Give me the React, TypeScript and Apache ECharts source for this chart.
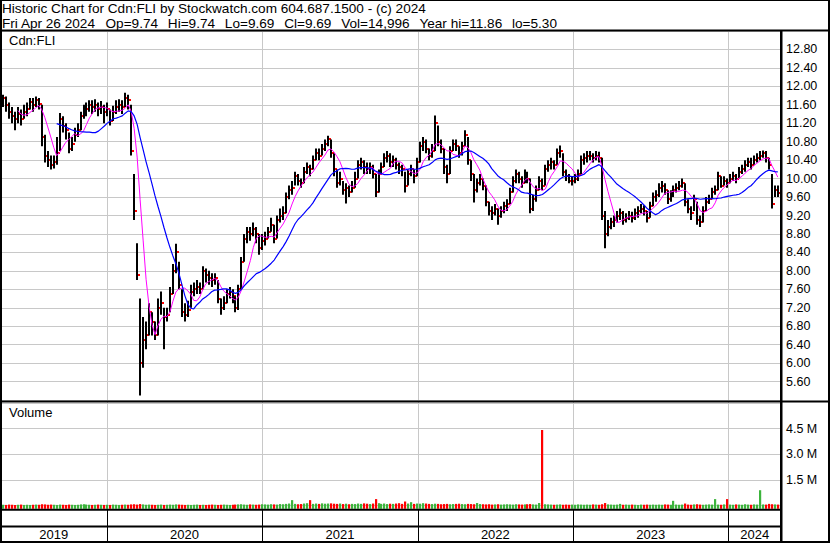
import React, { useEffect, useRef } from "react";
import * as echarts from "echarts";

const DAY = 86400000;
const FONT = '"Liberation Sans", Arial, sans-serif';

// weekly bars, first week ending Fri 2019-05-03, last Fri 2024-04-26
const firstWeek = Date.UTC(2019, 4, 3);

const close = [
  11.75, 11.6, 11.45, 11.35, 11.3, 11.4, 11.3, 11.45, 11.5, 11.65,
  11.6, 11.7, 11.62, 10.9, 10.5, 10.4, 10.3, 10.35, 10.55, 11.3,
  11.15, 11.05, 10.65, 10.75, 10.95, 11.05, 11.35, 11.45, 11.5, 11.6,
  11.55, 11.6, 11.5, 11.55, 11.45, 11.5, 11.25, 11.45, 11.55, 11.6,
  11.55, 11.75, 11.7, 10.6, 9.3, 7.9, 6.0, 6.5, 6.6, 7.1,
  6.9, 6.6, 7.2, 7.3, 7.0, 7.05, 7.5, 8.0, 8.4, 7.7,
  7.1, 7.05, 7.15, 7.55, 7.6, 7.65, 7.6, 8.0, 7.9, 7.85,
  7.8, 7.85, 7.4, 7.2, 7.3, 7.5, 7.55, 7.45, 7.2, 7.6,
  8.2, 8.7, 8.85, 8.8, 8.9, 8.8, 8.5, 8.65, 8.7, 8.85,
  9.0, 8.7, 9.1, 9.2, 9.25, 9.6, 9.75, 9.8, 10.05, 9.95,
  9.9, 10.15, 10.25, 10.2, 10.4, 10.55, 10.5, 10.65, 10.75, 10.85,
  10.55, 10.2, 9.9, 10.0, 9.75, 9.8, 9.7, 9.8, 10.0, 10.3,
  10.35, 10.25, 10.2, 10.25, 10.1, 9.7, 10.1, 10.25, 10.45, 10.5,
  10.35, 10.4, 10.3, 10.25, 10.2, 9.85, 10.1, 10.2, 10.05, 10.35,
  10.7, 10.8, 10.65, 10.5, 10.6, 11.2, 10.8, 10.65, 10.25, 10.1,
  10.6, 10.75, 10.7, 10.55, 10.7, 10.95, 10.4, 10.1, 9.75, 9.9,
  10.0, 9.85, 9.5, 9.3, 9.25, 9.35, 9.2, 9.3, 9.4, 9.45,
  9.7, 9.95, 10.1, 10.0, 9.9, 10.1, 10.0, 9.35, 9.55, 9.75,
  9.95, 9.85, 10.2, 10.3, 10.35, 10.3, 10.55, 10.6, 10.15, 10.05,
  9.95, 9.95, 10.0, 10.1, 10.4, 10.45, 10.5, 10.5, 10.45, 10.5,
  10.45, 9.2, 8.8, 8.95, 9.05, 9.1, 9.2, 9.25, 9.1, 9.15,
  9.2, 9.15, 9.25, 9.3, 9.35, 9.3, 9.15, 9.4, 9.6, 9.65,
  9.8, 9.85, 9.75, 9.55, 9.65, 9.75, 9.8, 9.85, 9.9, 9.5,
  9.35, 9.25, 9.55, 9.1, 9.05, 9.3, 9.5, 9.55, 9.7, 9.75,
  10.05, 9.85, 9.95, 9.9, 10.0, 10.05, 10.0, 10.15, 10.2, 10.3,
  10.35, 10.3, 10.4, 10.45, 10.5, 10.55, 10.45, 10.3, 9.45, 9.75,
  9.69,
];

const high = [
  11.82, 11.78, 11.65, 11.55, 11.45, 11.55, 11.5, 11.6, 11.65, 11.75,
  11.75, 11.78, 11.75, 11.6, 10.95, 10.6, 10.5, 10.5, 10.9, 11.42,
  11.35, 11.2, 11.0, 10.9, 11.1, 11.2, 11.45, 11.6, 11.65, 11.7,
  11.7, 11.72, 11.65, 11.68, 11.6, 11.65, 11.5, 11.58, 11.7, 11.72,
  11.7, 11.86, 11.82, 11.6, 10.1, 8.6, 7.4, 7.0, 6.9, 7.3,
  7.1, 6.9, 7.4, 7.55, 7.2, 7.2, 7.65, 8.15, 8.59, 8.2,
  7.6, 7.3, 7.35, 7.7, 7.75, 7.8, 7.75, 8.1, 8.05, 8.0,
  7.95, 7.95, 7.8, 7.4, 7.45, 7.6, 7.65, 7.6, 7.45, 7.7,
  8.3, 8.8, 8.95, 8.95, 9.05, 8.95, 8.8, 8.8, 8.85, 8.95,
  9.15, 9.0, 9.2, 9.35, 9.4, 9.7, 9.85, 9.95, 10.15, 10.1,
  10.0, 10.25, 10.35, 10.3, 10.5, 10.65, 10.65, 10.75, 10.85, 10.93,
  10.85, 10.55, 10.2, 10.15, 9.95, 9.9, 9.85, 9.95, 10.15, 10.4,
  10.45, 10.4, 10.35, 10.35, 10.3, 10.1, 10.2, 10.35, 10.55, 10.6,
  10.55, 10.5, 10.45, 10.35, 10.3, 10.15, 10.2, 10.3, 10.2, 10.45,
  10.8, 10.9, 10.85, 10.65, 10.75, 11.37, 11.15, 10.85, 10.65, 10.3,
  10.7, 10.85, 10.85, 10.7, 10.8, 11.05, 10.9, 10.4, 10.1, 10.0,
  10.1, 10.0, 9.85, 9.5, 9.4, 9.45, 9.35, 9.4, 9.5, 9.55,
  9.8, 10.05, 10.2, 10.15, 10.05, 10.2, 10.15, 10.0, 9.65, 9.85,
  10.05, 10.0, 10.3, 10.4, 10.45, 10.4, 10.65, 10.72, 10.55, 10.2,
  10.1, 10.05, 10.1, 10.2, 10.5, 10.55, 10.6, 10.6, 10.55, 10.6,
  10.58, 10.45, 9.3, 9.1, 9.15, 9.2, 9.3, 9.35, 9.3, 9.25,
  9.3, 9.28, 9.35, 9.4, 9.45, 9.42, 9.3, 9.5, 9.7, 9.75,
  9.9, 9.95, 9.9, 9.75, 9.75, 9.85, 9.9, 9.95, 10.0, 9.9,
  9.55, 9.4, 9.65, 9.5, 9.2, 9.4, 9.6, 9.65, 9.8, 9.85,
  10.15, 10.05, 10.05, 10.0, 10.1, 10.15, 10.1, 10.25, 10.3, 10.4,
  10.45, 10.45, 10.5, 10.55, 10.6, 10.61, 10.6, 10.45, 10.1, 9.85,
  9.85,
];

const low = [
  11.55, 11.45, 11.3, 11.2, 11.05, 11.2, 11.15, 11.3, 11.35, 11.5,
  11.45, 11.55, 11.5, 10.7, 10.35, 10.25, 10.2, 10.22, 10.3, 10.6,
  11.0, 10.85, 10.55, 10.6, 10.8, 10.9, 11.05, 11.3, 11.35, 11.45,
  11.4, 11.45, 11.35, 11.4, 11.2, 11.35, 11.15, 11.25, 11.4, 11.45,
  11.4, 11.55, 11.5, 10.5, 9.1, 7.8, 5.3, 5.9, 6.3, 6.6,
  6.6, 6.5, 6.6, 7.05, 6.3, 6.9, 7.1, 7.5, 7.95, 7.6,
  7.0, 6.9, 7.0, 7.2, 7.45, 7.5, 7.5, 7.6, 7.75, 7.7,
  7.65, 7.7, 7.3, 7.05, 7.15, 7.3, 7.4, 7.3, 7.1, 7.15,
  7.6, 8.2, 8.6, 8.65, 8.75, 8.6, 8.35, 8.45, 8.55, 8.7,
  8.85, 8.6, 8.7, 9.05, 9.1, 9.25, 9.55, 9.65, 9.85, 9.85,
  9.8, 9.9, 10.1, 10.05, 10.2, 10.4, 10.4, 10.5, 10.6, 10.7,
  10.45, 10.05, 9.8, 9.85, 9.65, 9.46, 9.6, 9.7, 9.8, 10.0,
  10.2, 10.1, 10.1, 10.1, 10.0, 9.6, 9.7, 10.1, 10.25, 10.35,
  10.25, 10.25, 10.2, 10.1, 10.05, 9.7, 9.85, 10.05, 9.9, 10.05,
  10.35, 10.6, 10.55, 10.4, 10.45, 10.6, 10.7, 10.55, 10.1, 9.9,
  10.1, 10.6, 10.6, 10.45, 10.5, 10.7, 10.3, 9.95, 9.48, 9.7,
  9.85, 9.75, 9.4, 9.2, 9.1, 9.2, 9.0, 9.15, 9.25, 9.3,
  9.45, 9.7, 9.9, 9.9, 9.8, 9.9, 9.9, 9.25, 9.3, 9.5,
  9.75, 9.75, 9.85, 10.15, 10.2, 10.2, 10.3, 10.45, 10.05, 9.95,
  9.9, 9.85, 9.9, 9.95, 10.1, 10.3, 10.35, 10.4, 10.35, 10.4,
  10.35, 9.1, 8.49, 8.75, 8.9, 8.95, 9.05, 9.1, 9.0, 9.05,
  9.1, 9.05, 9.1, 9.15, 9.25, 9.2, 9.05, 9.15, 9.4, 9.5,
  9.6, 9.7, 9.65, 9.45, 9.5, 9.6, 9.7, 9.75, 9.8, 9.4,
  9.25, 9.1, 9.3, 9.0, 8.95, 9.05, 9.3, 9.45, 9.55, 9.65,
  9.75, 9.8, 9.85, 9.8, 9.9, 9.95, 9.9, 10.0, 10.1, 10.15,
  10.25, 10.2, 10.3, 10.35, 10.4, 10.45, 10.35, 10.2, 9.35, 9.6,
  9.6,
];

// weekly volume, millions of shares
const volume = [
  0.05, 0.04, 0.06, 0.05, 0.04, 0.05, 0.06, 0.04, 0.05, 0.04,
  0.05, 0.06, 0.05, 0.08, 0.07, 0.05, 0.06, 0.05, 0.04, 0.06,
  0.05, 0.04, 0.06, 0.05, 0.04, 0.05, 0.07, 0.08, 0.06, 0.05,
  0.04, 0.05, 0.06, 0.05, 0.04, 0.05, 0.04, 0.06, 0.05, 0.04,
  0.05, 0.06, 0.05, 0.07, 0.08, 0.06, 0.09, 0.07, 0.05, 0.06,
  0.05, 0.04, 0.05, 0.06, 0.04, 0.05, 0.06, 0.05, 0.07, 0.06,
  0.05, 0.04, 0.05, 0.04, 0.05, 0.06, 0.04, 0.05, 0.04, 0.05,
  0.06, 0.05, 0.04, 0.05, 0.06, 0.05, 0.04, 0.05, 0.06, 0.07,
  0.08, 0.06, 0.05, 0.07, 0.06, 0.05, 0.06, 0.08, 0.07, 0.06,
  0.08, 0.07, 0.06, 0.09, 0.08, 0.1, 0.12, 0.32, 0.1, 0.08,
  0.09, 0.12, 0.14, 0.32, 0.1, 0.12, 0.1, 0.13, 0.11, 0.12,
  0.13, 0.11, 0.1, 0.12, 0.09, 0.11, 0.08, 0.1, 0.09, 0.12,
  0.1, 0.13, 0.11, 0.09, 0.12, 0.38, 0.14, 0.1, 0.12, 0.09,
  0.11, 0.1, 0.12, 0.14, 0.1, 0.24, 0.12, 0.2, 0.1, 0.12,
  0.11, 0.14, 0.12, 0.1, 0.09, 0.11, 0.1, 0.08, 0.09, 0.1,
  0.08, 0.09, 0.1, 0.11, 0.09, 0.08, 0.1, 0.09, 0.08, 0.15,
  0.09, 0.08, 0.07, 0.08, 0.06, 0.07, 0.08, 0.06, 0.07, 0.08,
  0.07, 0.06, 0.08, 0.07, 0.06, 0.07, 0.08, 0.09, 0.07, 0.06,
  0.15, 4.42, 0.08, 0.07, 0.06, 0.05, 0.06, 0.07, 0.05, 0.06,
  0.05, 0.06, 0.05, 0.07, 0.06, 0.05, 0.06, 0.05, 0.07, 0.06,
  0.05, 0.08, 0.15, 0.07, 0.06, 0.05, 0.06, 0.1, 0.05, 0.06,
  0.05, 0.06, 0.05, 0.04, 0.06, 0.05, 0.06, 0.05, 0.06, 0.05,
  0.06, 0.05, 0.07, 0.06, 0.05, 0.28, 0.06, 0.05, 0.06, 0.12,
  0.06, 0.05, 0.07, 0.08, 0.06, 0.05, 0.06, 0.07, 0.06, 0.38,
  0.06, 0.05, 0.07, 0.38, 0.06, 0.05, 0.07, 0.06, 0.05, 0.08,
  0.06, 0.05, 0.07, 0.06, 0.9, 0.07, 0.06, 0.1, 0.08, 0.07,
  0.06,
];

const yearLabels = ["2019", "2020", "2021", "2022", "2023", "2024"];
const yearStarts = [
  Date.UTC(2020, 0, 1),
  Date.UTC(2021, 0, 1),
  Date.UTC(2022, 0, 1),
  Date.UTC(2023, 0, 1),
  Date.UTC(2024, 0, 1),
];

const maShort = 6; // weeks (magenta)
const maLong = 19; // weeks (blue)

const headerLine1 = "Historic Chart for Cdn:FLI by Stockwatch.com 604.687.1500 - (c) 2024";
const headerLine2Parts = [
  "Fri Apr 26 2024",
  "Op=9.74",
  "Hi=9.74",
  "Lo=9.69",
  "Cl=9.69",
  "Vol=14,996",
  "Year hi=11.86",
  "lo=5.30",
];

// time axis range
const tMin = Date.UTC(2020, 0, 1) - 247.85 * DAY;
const tMax = tMin + 1832.4 * DAY;

const weekDates = close.map((_, i) => firstWeek + i * 7 * DAY);

function sma(values: number[], n: number) {
  const out: number[][] = [];
  let sum = 0;
  for (let i = 0; i < values.length; i++) {
    sum += values[i];
    if (i >= n) sum -= values[i - n];
    if (i >= n - 1) out.push([weekDates[i], +(sum / n).toFixed(4)]);
  }
  return out;
}

const HEADER_FONT = "13.6px " + FONT;
const HEADER_GAP = 9.8;

function headerLine2Graphics(top: number) {
  const ctx = document.createElement("canvas").getContext("2d");
  if (ctx) ctx.font = HEADER_FONT;
  const out: any[] = [];
  let x = 2;
  for (const part of headerLine2Parts) {
    out.push({ type: "text", left: x, top, style: { text: part, font: HEADER_FONT, fill: "#000" }, z: 10 });
    const w = ctx ? ctx.measureText(part).width : part.length * 7;
    x += w + HEADER_GAP;
  }
  return out;
}

export default function App() {
  const ref = useRef<HTMLDivElement>(null);

  useEffect(() => {
    if (!ref.current) return;
    const chart = echarts.init(ref.current, undefined, { renderer: "svg" });

    const ohlc = weekDates.map((t, i) => [t, high[i], low[i], close[i]]);
    const vols = weekDates.map((t, i) => [t, volume[i] * 1e6, i > 0 && close[i] < close[i - 1] ? 0 : 1]);
    const bounds = [tMin, ...yearStarts, tMax];
    const yearSeg = yearLabels.map((_, k) => [bounds[k], bounds[k + 1], k]);
    const gridLines = yearStarts.map((t) => [t, 0]);

    const yearGridRender = (params: any, api: any) => {
      const x = Math.round(api.coord([api.value(0), 0])[0]) + 0.5;
      const cs = params.coordSys;
      return {
        type: "line",
        shape: { x1: x, y1: cs.y, x2: x, y2: cs.y + cs.height + 4 },
        style: { stroke: "#c8c8c8", lineWidth: 1 },
      };
    };

    const hiddenX = (gi: number) => ({
      type: "time",
      gridIndex: gi,
      min: tMin,
      max: tMax,
      show: false,
    });

    chart.setOption({
      animation: false,
      backgroundColor: "#ffffff",
      grid: [
        { left: 1, top: 31, width: 780, height: 369, containLabel: false, outerBoundsMode: "none" },
        { left: 1, top: 403, width: 780, height: 102.6, containLabel: false, outerBoundsMode: "none" },
        { left: 1, top: 510, width: 780, height: 32, containLabel: false, outerBoundsMode: "none" },
      ],
      xAxis: [hiddenX(0), hiddenX(1), hiddenX(2)],
      yAxis: [
        {
          type: "value",
          gridIndex: 0,
          position: "right",
          min: 5.2,
          max: 13.2,
          interval: 0.4,
          axisLine: { show: false },
          axisTick: { show: false },
          splitLine: { show: true, lineStyle: { color: "#c8c8c8", width: 1 } },
          axisLabel: {
            formatter: (v: number) => v.toFixed(2),
            color: "#000",
            fontSize: 12.5,
            fontFamily: FONT,
            margin: 5,
            showMinLabel: false,
            showMaxLabel: false,
          },
        },
        {
          type: "value",
          gridIndex: 1,
          position: "right",
          min: 0,
          max: 6e6,
          interval: 1.5e6,
          axisLine: { show: false },
          axisTick: { show: false },
          splitLine: { show: true, lineStyle: { color: "#c8c8c8", width: 1 } },
          axisLabel: {
            formatter: (v: number) => (v / 1e6).toFixed(1) + " M",
            color: "#000",
            fontSize: 12.5,
            fontFamily: FONT,
            margin: 5,
            showMinLabel: false,
            showMaxLabel: false,
          },
        },
        { type: "value", gridIndex: 2, min: 0, max: 1, show: false },
      ],
      series: [
        {
          type: "custom",
          name: "priceGrid",
          xAxisIndex: 0,
          yAxisIndex: 0,
          z: 1,
          silent: true,
          data: gridLines,
          renderItem: yearGridRender,
        },
        {
          type: "custom",
          name: "volGrid",
          xAxisIndex: 1,
          yAxisIndex: 1,
          z: 1,
          silent: true,
          data: gridLines,
          renderItem: yearGridRender,
        },
        {
          type: "custom",
          name: "Cdn:FLI",
          xAxisIndex: 0,
          yAxisIndex: 0,
          z: 3,
          data: ohlc,
          encode: { x: 0, y: [1, 2, 3] },
          renderItem: (params: any, api: any) => {
            const t = api.value(0);
            const pH = api.coord([t, api.value(1)]);
            const pL = api.coord([t, api.value(2)]);
            const pC = api.coord([t, api.value(3)]);
            const x = Math.round(pH[0]);
            return {
              type: "group",
              children: [
                {
                  type: "rect",
                  shape: { x: x - 1, y: pH[1], width: 2, height: Math.max(1, pL[1] - pH[1]) },
                  style: { fill: "#000000" },
                },
                {
                  type: "rect",
                  shape: { x: x + 1, y: Math.round(pC[1]) - 1, width: 2, height: 2 },
                  style: { fill: "#ff0000" },
                },
              ],
            };
          },
        },
        {
          type: "line",
          name: "MA short",
          xAxisIndex: 0,
          yAxisIndex: 0,
          z: 4,
          data: sma(close, maShort),
          showSymbol: false,
          lineStyle: { color: "#ff00ff", width: 1 },
          itemStyle: { color: "#ff00ff" },
        },
        {
          type: "line",
          name: "MA long",
          xAxisIndex: 0,
          yAxisIndex: 0,
          z: 4,
          data: sma(close, maLong),
          showSymbol: false,
          lineStyle: { color: "#0000ff", width: 1.2 },
          itemStyle: { color: "#0000ff" },
        },
        {
          type: "custom",
          name: "Volume",
          xAxisIndex: 1,
          yAxisIndex: 1,
          z: 3,
          data: vols,
          encode: { x: 0, y: 1 },
          renderItem: (params: any, api: any) => {
            const t = api.value(0);
            const top = api.coord([t, api.value(1)]);
            const cs = params.coordSys;
            const base = cs.y + cs.height + 3.2;
            const x = Math.round(top[0]);
            return {
              type: "rect",
              shape: { x: x - 1, y: top[1], width: 2.2, height: base - top[1] },
              style: { fill: api.value(2) ? "#3cb43c" : "#ff0000" },
            };
          },
        },
        {
          type: "custom",
          name: "years",
          xAxisIndex: 2,
          yAxisIndex: 2,
          z: 3,
          silent: true,
          data: yearSeg,
          renderItem: (params: any, api: any) => {
            const s = api.value(0);
            const e = api.value(1);
            const k = api.value(2);
            const x1 = api.coord([s, 0.5])[0];
            const x2 = api.coord([e, 0.5])[0];
            const cs = params.coordSys;
            const children: any[] = [
              {
                type: "text",
                style: {
                  text: yearLabels[k],
                  x: (x1 + x2) / 2,
                  y: cs.y + 24.5,
                  align: "center",
                  verticalAlign: "middle",
                  font: "13px " + FONT,
                  fill: "#000",
                },
              },
            ];
            if (k > 0) {
              const xx = Math.round(x1) + 0.5;
              children.push({
                type: "line",
                shape: { x1: xx, y1: cs.y, x2: xx, y2: cs.y + cs.height },
                style: { stroke: "#000", lineWidth: 1 },
              });
            }
            return { type: "group", children };
          },
        },
      ],
      graphic: [
        { type: "text", left: 2, top: 1, style: { text: headerLine1, font: HEADER_FONT, fill: "#000" }, z: 10 },
        ...headerLine2Graphics(16),
        { type: "text", left: 9, top: 34, style: { text: "Cdn:FLI", font: "13px " + FONT, fill: "#000" }, z: 10 },
        { type: "text", left: 9, top: 406, style: { text: "Volume", font: "13px " + FONT, fill: "#000" }, z: 10 },
        // frame
        { type: "rect", shape: { x: 0, y: 0, width: 2, height: 543 }, style: { fill: "#000" }, z: 10 },
        { type: "rect", shape: { x: 828, y: 0, width: 2, height: 543 }, style: { fill: "#000" }, z: 10 },
        { type: "rect", shape: { x: 0, y: 0, width: 830, height: 1 }, style: { fill: "#000" }, z: 10 },
        { type: "rect", shape: { x: 0, y: 541, width: 830, height: 2 }, style: { fill: "#000" }, z: 10 },
        { type: "rect", shape: { x: 0, y: 29.5, width: 830, height: 2 }, style: { fill: "#000" }, z: 10 },
        { type: "rect", shape: { x: 780, y: 30, width: 2.5, height: 513 }, style: { fill: "#000" }, z: 10 },
        { type: "rect", shape: { x: 0, y: 400.5, width: 830, height: 2 }, style: { fill: "#000" }, z: 10 },
        { type: "rect", shape: { x: 0, y: 508.8, width: 781, height: 2 }, style: { fill: "#000" }, z: 10 },
        { type: "rect", shape: { x: 0, y: 525.6, width: 781, height: 2 }, style: { fill: "#000" }, z: 10 },
      ],
    });

    return () => chart.dispose();
  }, []);

  return (
    <div
      ref={ref}
      style={{ position: "fixed", left: 0, top: 0, width: 830, height: 543, background: "#fff" }}
    />
  );
}
